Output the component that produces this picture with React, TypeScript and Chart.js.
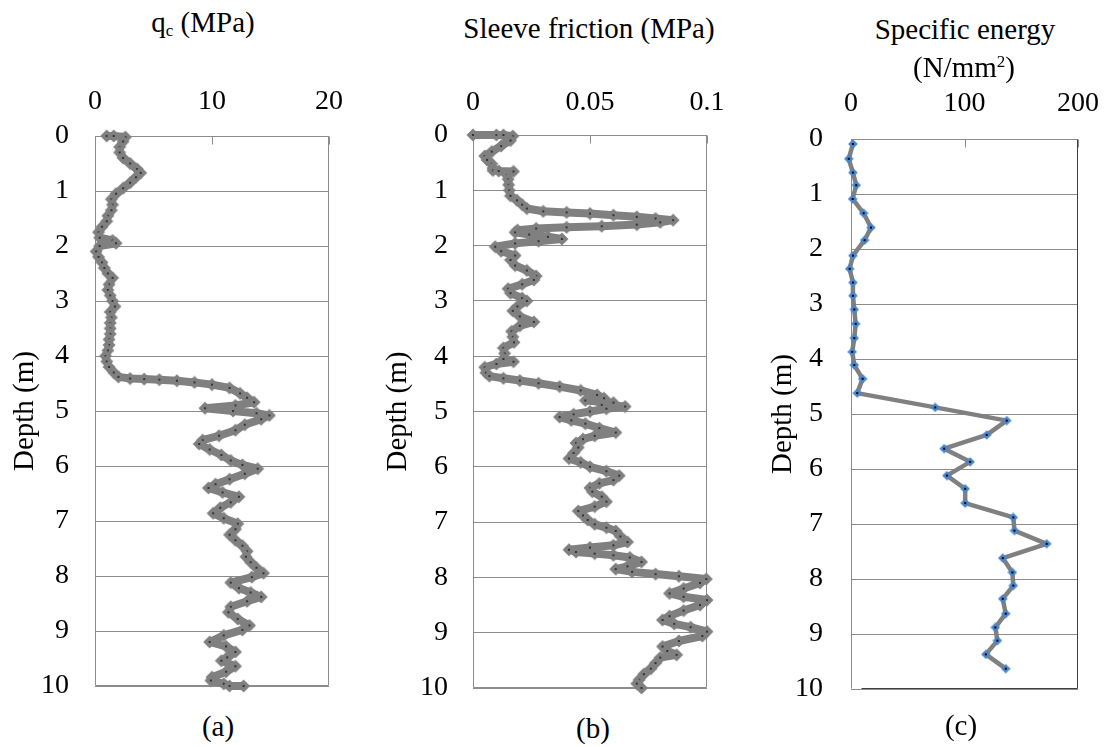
import React, { useEffect, useRef } from "react";
import { Chart, registerables } from "chart.js";

Chart.register(...registerables);

// ---------- tick labels ----------
const depthTicks = [0, 1, 2, 3, 4, 5, 6, 7, 8, 9, 10];
const qcTicks = [0, 10, 20];
const fsTicks = [0, 0.05, 0.1];
const seTicks = [0, 100, 200];

// ---------- (a) cone resistance qc (MPa) ----------
const qcDepth = [
  0, 0, 0.02, 0.1, 0.2, 0.3, 0.4, 0.5, 0.6, 0.67, 0.75, 0.85, 0.95, 1.05, 1.15, 1.25, 1.35, 1.45, 1.55, 1.65,
  1.75, 1.85, 1.9, 1.95, 2.0, 2.1, 2.2, 2.3, 2.4, 2.5, 2.58, 2.7, 2.8, 2.9, 3.0, 3.1, 3.2, 3.3, 3.4, 3.5,
  3.6, 3.7, 3.8, 3.9, 4.0, 4.1, 4.2, 4.3, 4.38, 4.41, 4.42, 4.43, 4.45, 4.48, 4.52, 4.58, 4.68, 4.76, 4.84, 4.9,
  4.95, 5.0, 5.04, 5.08, 5.15, 5.25, 5.35, 5.45, 5.53, 5.6, 5.7, 5.8, 5.9, 5.98, 6.05, 6.14, 6.24, 6.33, 6.4, 6.48,
  6.56, 6.66, 6.76, 6.86, 6.95, 7.05, 7.15, 7.25, 7.35, 7.45, 7.55, 7.65, 7.75, 7.85, 7.95, 8.02, 8.12, 8.22, 8.3, 8.38,
  8.46, 8.56, 8.66, 8.78, 8.9, 8.98, 9.08, 9.2, 9.28, 9.38, 9.48, 9.54, 9.64, 9.74, 9.84, 9.9, 9.96, 10.0, 10.0,
];
const qcValue = [
  1.0, 1.6, 2.6, 2.4, 2.1, 2.1, 2.4, 3.0, 3.6, 3.9, 3.5, 3.0, 2.4, 1.8, 1.4, 1.5, 1.4, 1.1, 1.0, 0.6,
  0.3, 0.4, 1.5, 1.8, 0.4, 0.1, 0.3, 0.6, 0.8, 1.1, 1.5, 1.2, 1.1, 1.3, 1.5, 1.7, 1.3, 1.4, 1.3, 1.3,
  1.3, 1.2, 1.2, 1.1, 0.9, 1.0, 1.2, 1.6, 2.0, 3.0, 4.2, 5.5, 7.0, 8.5, 10.0, 11.5, 12.4, 13.0, 13.6, 12.0,
  9.4, 11.8, 13.8, 14.9, 14.2, 12.8, 12.0, 10.6, 9.2, 8.9, 9.8, 10.8, 11.6, 12.6, 13.9, 12.8, 11.5, 10.3, 9.7, 10.9,
  12.3, 11.6, 10.7, 10.1, 11.0, 12.2, 12.0, 11.5, 12.0, 12.6, 13.0, 12.9, 13.3, 13.8, 14.4, 13.4, 11.6, 12.3, 13.3, 14.2,
  13.0, 11.6, 11.4, 12.2, 13.2, 12.6, 11.0, 9.8, 11.2, 12.0, 11.3, 10.8, 12.0, 11.2, 10.0, 9.9, 11.0, 11.5, 12.7,
];

// ---------- (b) sleeve friction (MPa) ----------
const fsDepth = [
  0, 0, 0, 0.02, 0.1, 0.2, 0.3, 0.38, 0.45, 0.52, 0.6, 0.64, 0.65, 0.66, 0.72, 0.8, 0.9, 1.0, 1.1, 1.18,
  1.26, 1.33, 1.38, 1.4, 1.42, 1.45, 1.48, 1.51, 1.54, 1.58, 1.62, 1.65, 1.67, 1.69, 1.72, 1.76, 1.8, 1.84, 1.88, 1.92,
  1.96, 2.02, 2.1, 2.18, 2.26, 2.36, 2.45, 2.55, 2.62, 2.7, 2.78, 2.86, 2.95, 3.0, 3.1, 3.18, 3.28, 3.38, 3.45, 3.55,
  3.65, 3.75, 3.85, 3.95, 4.05, 4.1, 4.14, 4.2, 4.3, 4.36, 4.4, 4.44, 4.49, 4.55, 4.62, 4.7, 4.76, 4.8, 4.84, 4.88,
  4.91, 4.95, 5.0, 5.05, 5.1, 5.16, 5.22, 5.3, 5.38, 5.44, 5.5, 5.57, 5.65, 5.75, 5.85, 5.92, 6.0, 6.08, 6.16, 6.24,
  6.3, 6.38, 6.45, 6.54, 6.63, 6.72, 6.8, 6.88, 6.96, 7.04, 7.1, 7.16, 7.26, 7.36, 7.42, 7.46, 7.5, 7.54, 7.57, 7.6,
  7.64, 7.72, 7.8, 7.85, 7.9, 7.94, 7.98, 8.03, 8.1, 8.2, 8.29, 8.35, 8.41, 8.5, 8.6, 8.7, 8.77, 8.84, 8.9, 8.98,
  9.06, 9.15, 9.25, 9.33, 9.4, 9.45, 9.55, 9.65, 9.75, 9.85, 9.92, 10.0,
];
const fsValue = [
  0.0, 0.010, 0.013, 0.017, 0.016, 0.012, 0.008, 0.005, 0.006, 0.008, 0.0085, 0.0085, 0.011, 0.0173, 0.0145, 0.015, 0.0152, 0.0155, 0.016, 0.0188,
  0.021, 0.023, 0.030, 0.040, 0.050, 0.060, 0.070, 0.078, 0.0855, 0.080, 0.070, 0.055, 0.040, 0.027, 0.019, 0.018, 0.024, 0.032, 0.038, 0.028,
  0.018, 0.0095, 0.012, 0.018, 0.016, 0.018, 0.023, 0.027, 0.026, 0.021, 0.015, 0.016, 0.021, 0.023, 0.019, 0.017, 0.020, 0.026, 0.020, 0.0165,
  0.017, 0.0175, 0.013, 0.0135, 0.013, 0.0173, 0.010, 0.005, 0.0055, 0.007, 0.013, 0.020, 0.028, 0.037, 0.046, 0.053, 0.056, 0.048, 0.060, 0.055,
  0.065, 0.057, 0.050, 0.043, 0.037, 0.042, 0.048, 0.054, 0.061, 0.052, 0.047, 0.044, 0.045, 0.043, 0.041, 0.046, 0.050, 0.057, 0.0625, 0.060,
  0.054, 0.050, 0.051, 0.055, 0.057, 0.052, 0.045, 0.047, 0.049, 0.052, 0.057, 0.061, 0.063, 0.066, 0.060, 0.050, 0.041, 0.044, 0.052, 0.060,
  0.067, 0.072, 0.066, 0.061, 0.068, 0.078, 0.088, 0.0997, 0.097, 0.090, 0.084, 0.090, 0.100, 0.097, 0.090, 0.084, 0.081, 0.086, 0.093, 0.100,
  0.098, 0.088, 0.081, 0.083, 0.087, 0.080, 0.078, 0.076, 0.073, 0.071, 0.070, 0.072,
];

// ---------- (c) specific energy (N/mm2) ----------
const seDepth = [
  0.09, 0.36, 0.61, 0.84, 1.09, 1.35, 1.61, 1.84, 2.12, 2.36, 2.61, 2.85, 3.1, 3.36, 3.62, 3.87, 4.11, 4.36, 4.62, 4.88,
  5.12, 5.38, 5.63, 5.87, 6.12, 6.36, 6.62, 6.88, 7.12, 7.36, 7.62, 7.88, 8.12, 8.36, 8.63, 8.88, 9.12, 9.37, 9.63,
];
const seValue = [
  1.7, -2, 1.7, 4.6, 1.4, 11.1, 17.6, 12, 1.7, -1.2, 1.7, 1.7, 2.9, 4.1, 2.9, 1.1, 2.9, 10.2, 5.5, 74.2,
  137.2, 119.6, 82.1, 105, 84.5, 100.6, 100.6, 143, 144, 172.4, 133.7, 142.2, 143, 133.7, 136.3, 127.2, 129, 118.8, 136.3,
];

const FONT = '"Liberation Serif", "Times New Roman", serif';

function makeDiamond(size: number, r: number, fill: string, dot: string) {
  const c = document.createElement("canvas");
  c.width = size;
  c.height = size;
  const g = c.getContext("2d")!;
  const m = size / 2;
  g.fillStyle = fill;
  g.beginPath();
  g.moveTo(m, m - r);
  g.lineTo(m + r, m);
  g.lineTo(m, m + r);
  g.lineTo(m - r, m);
  g.closePath();
  g.fill();
  g.fillStyle = dot;
  g.fillRect(m - 1, m - 1, 2, 2);
  return c;
}

const framePlugin = {
  id: "frame",
  beforeDatasetsDraw(chart: any, _args: any, opts: any) {
    const { ctx, chartArea: a } = chart;
    const x = chart.scales.x;
    const L = Math.round(a.left) + 0.5;
    const R = Math.round(a.right) - 0.5;
    const T = Math.round(a.top) + 0.5;
    const B = Math.round(a.bottom) - 0.5;
    ctx.save();
    ctx.lineWidth = 1;
    ctx.strokeStyle = "#8c8c8c";
    x.ticks.forEach((t: any) => {
      const px = Math.round(x.getPixelForValue(t.value)) + 0.5;
      ctx.beginPath();
      ctx.moveTo(px, T);
      ctx.lineTo(px, T + 8);
      ctx.stroke();
    });
    ctx.beginPath();
    ctx.moveTo(L, B);
    ctx.lineTo(L, T);
    ctx.lineTo(R, T);
    ctx.stroke();
    ctx.strokeStyle = opts && opts.dark ? "#404040" : "#8c8c8c";
    ctx.beginPath();
    ctx.moveTo(R, T);
    ctx.lineTo(R, B);
    ctx.lineTo(opts && opts.dark ? L + 10 : L, B);
    ctx.stroke();
    ctx.restore();
  },
};

type Spec = {
  left: number;
  top: number;
  width: number;
  height: number;
  padLeft: number;
  yWidth: number;
  xHeight: number;
  yTickPad: number;
  xTickPad: number;
  xMax: number;
  xTicks: number[];
  depth: number[];
  value: number[];
  sparse: boolean;
};

function Panel({ spec }: { spec: Spec }) {
  const ref = useRef<HTMLCanvasElement | null>(null);
  useEffect(() => {
    if (!ref.current) return;
    const img = spec.sparse
      ? makeDiamond(10, 4.8, "#4a86c8", "#000")
      : makeDiamond(14, 6.5, "#808080", "#333333");
    const chart = new Chart(ref.current, {
      type: "scatter",
      data: {
        datasets: [
          {
            data: spec.depth.map((d, i) => ({ x: spec.value[i], y: d })),
            showLine: true,
            borderColor: "#808080",
            borderWidth: spec.sparse ? 4.5 : 8,
            borderJoinStyle: "round",
            borderCapStyle: "round",
            pointStyle: img as any,
            pointRadius: 5,
            pointHoverRadius: 5,
            tension: 0,
            clip: false as any,
          },
        ],
      },
      options: {
        responsive: false,
        animation: false,
        events: [],
        layout: { padding: { left: spec.padLeft, right: 25, top: 0, bottom: 20 } },
        plugins: {
          legend: { display: false },
          tooltip: { enabled: false },
          frame: { dark: spec.sparse },
        } as any,
        scales: {
          x: {
            type: "linear",
            position: "top",
            min: 0,
            max: spec.xMax,
            afterBuildTicks: (s: any) => {
              s.ticks = spec.xTicks.map((v) => ({ value: v }));
            },
            afterFit: (s: any) => {
              s.height = spec.xHeight;
              s.paddingLeft = 0;
              s.paddingRight = 0;
            },
            ticks: {
              callback: (v: any) => String(v),
              font: { family: FONT, size: 28 },
              color: "#000",
              padding: spec.xTickPad,
              maxRotation: 0,
              autoSkip: false,
            },
            grid: { display: false },
            border: { display: false },
          },
          y: {
            type: "linear",
            reverse: true,
            min: 0,
            max: 10,
            afterBuildTicks: (s: any) => {
              s.ticks = depthTicks.map((v) => ({ value: v }));
            },
            afterFit: (s: any) => {
              s.width = spec.yWidth;
              s.paddingTop = 0;
              s.paddingBottom = 0;
            },
            ticks: {
              callback: (v: any) => String(v),
              font: { family: FONT, size: 28 },
              color: "#000",
              padding: spec.yTickPad,
              autoSkip: false,
            },
            grid: { color: "#8c8c8c", lineWidth: 1, drawTicks: false },
            border: { display: false },
            title: {
              display: true,
              text: "Depth (m)",
              font: { family: FONT, size: 29 },
              color: "#000",
              padding: { top: 4, bottom: 4 },
            },
          },
        },
      } as any,
      plugins: [framePlugin as any],
    });
    return () => chart.destroy();
  }, [spec]);
  return (
    <canvas
      ref={ref}
      width={spec.width}
      height={spec.height}
      style={{ position: "absolute", left: spec.left, top: spec.top, width: spec.width, height: spec.height }}
    />
  );
}

const specA: Spec = {
  left: 0, top: 70, width: 354, height: 636, padLeft: 4, yWidth: 91, xHeight: 66,
  yTickPad: 26, xTickPad: 10, xMax: 20, xTicks: qcTicks, depth: qcDepth, value: qcValue, sparse: false,
};
const specB: Spec = {
  left: 373, top: 70, width: 359, height: 638, padLeft: 4, yWidth: 96, xHeight: 65,
  yTickPad: 25, xTickPad: 8, xMax: 0.1, xTicks: fsTicks, depth: fsDepth, value: fsValue, sparse: false,
};
const specC: Spec = {
  left: 758, top: 70, width: 345, height: 639, padLeft: 4, yWidth: 89, xHeight: 69,
  yTickPad: 28, xTickPad: 11, xMax: 200, xTicks: seTicks, depth: seDepth, value: seValue, sparse: true,
};

const textStyle = (x: number, y: number): React.CSSProperties => ({
  position: "absolute",
  left: x,
  top: y,
  transform: "translate(-50%, -50%)",
  fontFamily: FONT,
  fontSize: 29,
  lineHeight: 1,
  whiteSpace: "nowrap",
  color: "#000",
});

export default function App() {
  return (
    <div style={{ position: "fixed", left: 0, top: 0, width: 1105, height: 747, background: "#fff", overflow: "hidden" }}>
      <Panel spec={specA} />
      <Panel spec={specB} />
      <Panel spec={specC} />
      <div style={textStyle(203, 23)}>
        q<sub style={{ fontSize: 17, verticalAlign: -4 }}>c</sub> (MPa)
      </div>
      <div style={textStyle(589, 28)}>Sleeve friction (MPa)</div>
      <div style={textStyle(965, 29)}>Specific energy</div>
      <div style={textStyle(964, 67)}>
        (N/mm<sup style={{ fontSize: 17, verticalAlign: 10 }}>2</sup>)
      </div>
      <div style={textStyle(218, 726)}>(a)</div>
      <div style={textStyle(593, 728)}>(b)</div>
      <div style={textStyle(961, 725)}>(c)</div>
    </div>
  );
}
